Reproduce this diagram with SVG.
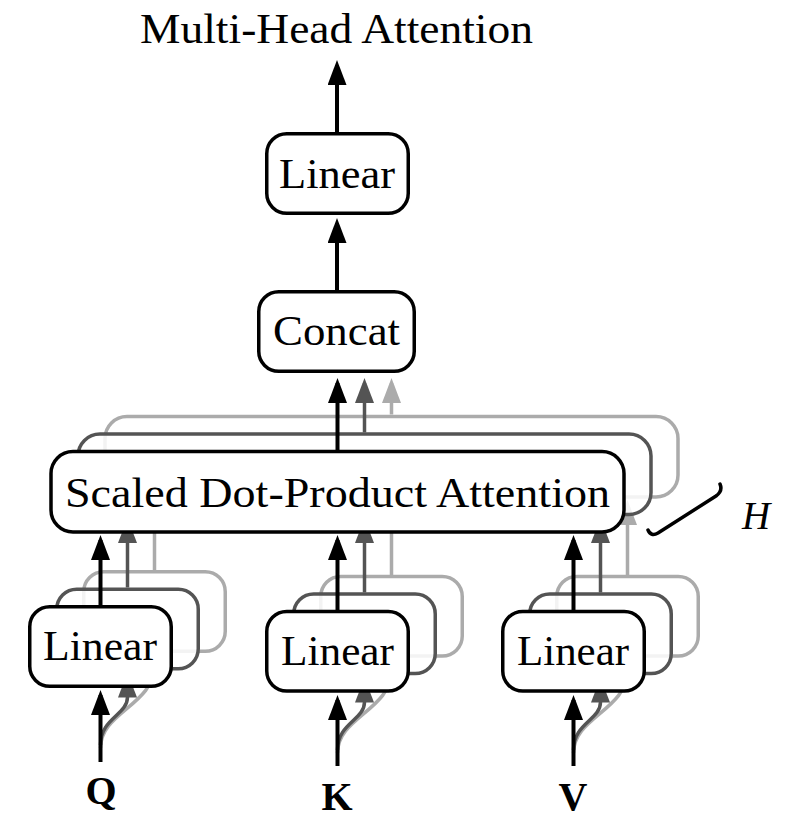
<svg xmlns="http://www.w3.org/2000/svg" width="792" height="830" viewBox="0 0 792 830">
<defs>
<style>
.lbl{font-family:"Liberation Serif","DejaVu Serif",serif;font-size:43px;fill:#000}
.io{font-family:"Liberation Serif","DejaVu Serif",serif;font-size:40px;font-weight:bold;fill:#000}
.box{fill:#fff;stroke:#000;stroke-width:3.5}
.box-d{fill:#fff;fill-opacity:0.85;stroke:#545454;stroke-width:3.5}
.box-l{fill:#fff;stroke:#ababab;stroke-width:3.5}
.c{fill:none;stroke:#000;stroke-width:4;marker-end:url(#ah-k)}
.c-d{fill:none;stroke:#545454;stroke-width:3.5;marker-end:url(#ah-d)}
.c-l{fill:none;stroke:#ababab;stroke-width:3.5;marker-end:url(#ah-l)}
</style>
<marker id="ah-k" viewBox="0 0 25 19" refX="20" refY="9.5" markerWidth="25" markerHeight="19" markerUnits="userSpaceOnUse" orient="auto"><path d="M0,0 L25,9.5 L0,19 z" fill="#000"/></marker>
<marker id="ah-d" viewBox="0 0 25 19" refX="20" refY="9.5" markerWidth="25" markerHeight="19" markerUnits="userSpaceOnUse" orient="auto"><path d="M0,0 L25,9.5 L0,19 z" fill="#545454"/></marker>
<marker id="ah-l" viewBox="0 0 25 19" refX="20" refY="9.5" markerWidth="25" markerHeight="19" markerUnits="userSpaceOnUse" orient="auto"><path d="M0,0 L25,9.5 L0,19 z" fill="#ababab"/></marker>
</defs>
<rect width="792" height="830" fill="#fff"/>

<g id="connectors-back">
<path class="c-l" d="M100.5,748 C100.5,712 154.5,705 154.5,665 L154.5,660"/>
<path class="c-l" d="M337.5,753 C337.5,717 391.5,710 391.5,670 L391.5,665"/>
<path class="c-l" d="M573.5,753 C573.5,717 627.5,710 627.5,670 L627.5,665"/>
<path class="c-l" d="M154.5,570 L154.5,505"/>
<path class="c-l" d="M391.5,575 L391.5,505"/>
<path class="c-l" d="M627.5,575 L627.5,505"/>
<path class="c-l" d="M391.5,414.5 L391.5,383"/>
</g>

<g id="heads-back">
<g id="linear-q-h3"><rect class="box-l" x="83.75" y="571.75" width="141.5" height="79.5" rx="20"/></g>
<g id="linear-k-h3"><rect class="box-l" x="320.75" y="576.5" width="141.5" height="79.5" rx="20"/></g>
<g id="linear-v-h3"><rect class="box-l" x="556.75" y="576.5" width="141.5" height="79.5" rx="20"/></g>
<g id="sdpa-h3"><rect class="box-l" x="105" y="416.5" width="573" height="80.5" rx="22"/></g>
</g>

<g id="connectors-mid">
<path class="c-d" d="M100.5,745 C100.5,718 127.5,715 127.5,697 L127.5,677.5"/>
<path class="c-d" d="M337.5,750 C337.5,723 364.5,720 364.5,702 L364.5,682.5"/>
<path class="c-d" d="M573.5,750 C573.5,723 600.5,720 600.5,702 L600.5,682.5"/>
<path class="c-d" d="M127.5,587.5 L127.5,523"/>
<path class="c-d" d="M364.5,592.5 L364.5,523"/>
<path class="c-d" d="M600.5,592.5 L600.5,523"/>
<path class="c-d" d="M364.5,432.5 L364.5,383"/>
</g>

<g id="heads-mid">
<g id="linear-q-h2"><rect class="box-d" x="56.75" y="589.25" width="141.5" height="79.5" rx="20"/></g>
<g id="linear-k-h2"><rect class="box-d" x="293.75" y="594" width="141.5" height="79.5" rx="20"/></g>
<g id="linear-v-h2"><rect class="box-d" x="529.75" y="594" width="141.5" height="79.5" rx="20"/></g>
<g id="sdpa-h2"><rect class="box-d" x="78" y="434" width="573" height="80.5" rx="22"/></g>
</g>

<g id="linear-q"><rect class="box" x="29.75" y="606.75" width="141.5" height="79.5" rx="20"/><text class="lbl" x="43" y="660" textLength="114" lengthAdjust="spacingAndGlyphs">Linear</text></g>
<g id="linear-k"><rect class="box" x="266.75" y="611.5" width="141.5" height="79.5" rx="20"/><text class="lbl" x="281" y="665" textLength="113" lengthAdjust="spacingAndGlyphs">Linear</text></g>
<g id="linear-v"><rect class="box" x="502.75" y="611.5" width="141.5" height="79.5" rx="20"/><text class="lbl" x="517" y="665" textLength="112" lengthAdjust="spacingAndGlyphs">Linear</text></g>
<g id="sdpa"><rect class="box" x="51" y="451.5" width="573" height="80.5" rx="22"/><text class="lbl" x="65" y="507" textLength="545" lengthAdjust="spacingAndGlyphs">Scaled Dot-Product Attention</text></g>
<g id="concat"><rect class="box" x="258.75" y="291.75" width="155.5" height="79.5" rx="20"/><text class="lbl" x="273" y="345" textLength="127" lengthAdjust="spacingAndGlyphs">Concat</text></g>
<g id="linear-out"><rect class="box" x="266.75" y="133.75" width="141.5" height="79.5" rx="20"/><text class="lbl" x="279" y="188" textLength="116" lengthAdjust="spacingAndGlyphs">Linear</text></g>

<g id="connectors">
<path class="c" d="M100.5,762 L100.5,695"/>
<path class="c" d="M337.5,766 L337.5,700"/>
<path class="c" d="M573.5,766 L573.5,700"/>
<path class="c" d="M100.5,605 L100.5,540"/>
<path class="c" d="M337.5,610 L337.5,540"/>
<path class="c" d="M573.5,610 L573.5,540"/>
<path class="c" d="M337.5,450 L337.5,383"/>
<path class="c" d="M337,290 L337,223"/>
<path class="c" d="M337,132 L337,65"/>
</g>

<g id="h-brace">
<path d="M648,530 Q651,537 658,533 L716,496 Q723,491 720,484" fill="none" stroke="#000" stroke-width="3.5" stroke-linecap="round" stroke-linejoin="round"/>
<text x="742" y="529" font-family="Liberation Serif, DejaVu Serif, serif" font-size="39" font-style="italic">H</text>
</g>

<g id="title"><text class="lbl" x="140" y="43" textLength="393" lengthAdjust="spacingAndGlyphs">Multi-Head Attention</text></g>
<g id="input-q"><text class="io" x="101" y="804" text-anchor="middle">Q</text></g>
<g id="input-k"><text class="io" x="337" y="810" text-anchor="middle">K</text></g>
<g id="input-v"><text class="io" x="573" y="810" text-anchor="middle">V</text></g>
</svg>
